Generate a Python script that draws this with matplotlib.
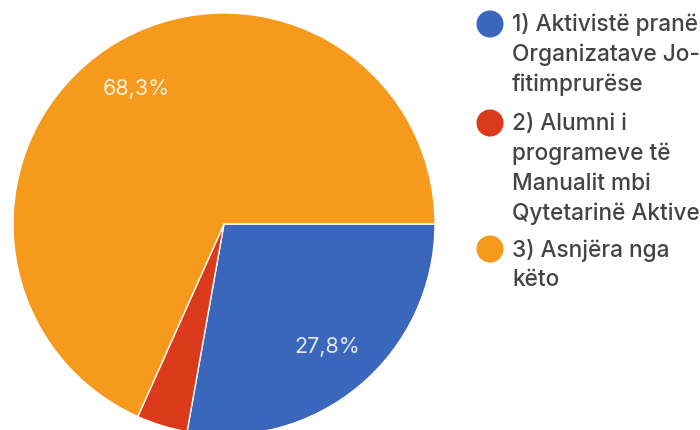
import matplotlib
matplotlib.use('Agg')
import matplotlib.pyplot as plt

labels = ['1) Aktivistë pranë\nOrganizatave Jo-\nfitimprurëse',
          '2) Alumni i\nprogrameve të\nManualit mbi\nQytetarinë Aktive',
          '3) Asnjëra nga\nkëto']
values = [27.8, 3.9, 68.3]
colors = ['#3a66bb', '#db3b1a', '#f69a1d']

plt.rcParams['font.family'] = ['Inter', 'DejaVu Sans']

fig = plt.figure(figsize=(7, 4.3), dpi=100)

# pie, centre about (224, 224) px, radius 211 px
ax = fig.add_axes([13 / 700, -5 / 430, 422 / 700, 422 / 430])


def pct(p):
    if p < 5:
        return ''
    return f'{p:.1f}%'.replace('.', ',')


wedges, texts, autotexts = ax.pie(values, colors=colors, startangle=0, counterclock=False,
                                  autopct=pct, pctdistance=0.76,
                                  wedgeprops=dict(edgecolor='white', linewidth=1))
for t in autotexts:
    t.set_color('white')
    t.set_alpha(0.85)
    t.set_fontsize(15.5)
ax.set_xlim(-1, 1)
ax.set_ylim(-1, 1)
ax.set_aspect('equal')

# legend drawn in pixel coordinates
lax = fig.add_axes([0, 0, 1, 1])
lax.set_xlim(0, 700)
lax.set_ylim(430, 0)
lax.axis('off')
legend_y = [24, 123, 249]
line_step = 30
for lab, col, y in zip(labels, colors, legend_y):
    lax.scatter([490], [y], s=380, color=col, edgecolors='none')
    for i, line in enumerate(lab.split('\n')):
        lax.text(512, y + 1 + i * line_step, line, fontsize=16.3, color='#444444',
                 fontweight='medium', va='center', ha='left')

fig.savefig('out.png', dpi=100)
